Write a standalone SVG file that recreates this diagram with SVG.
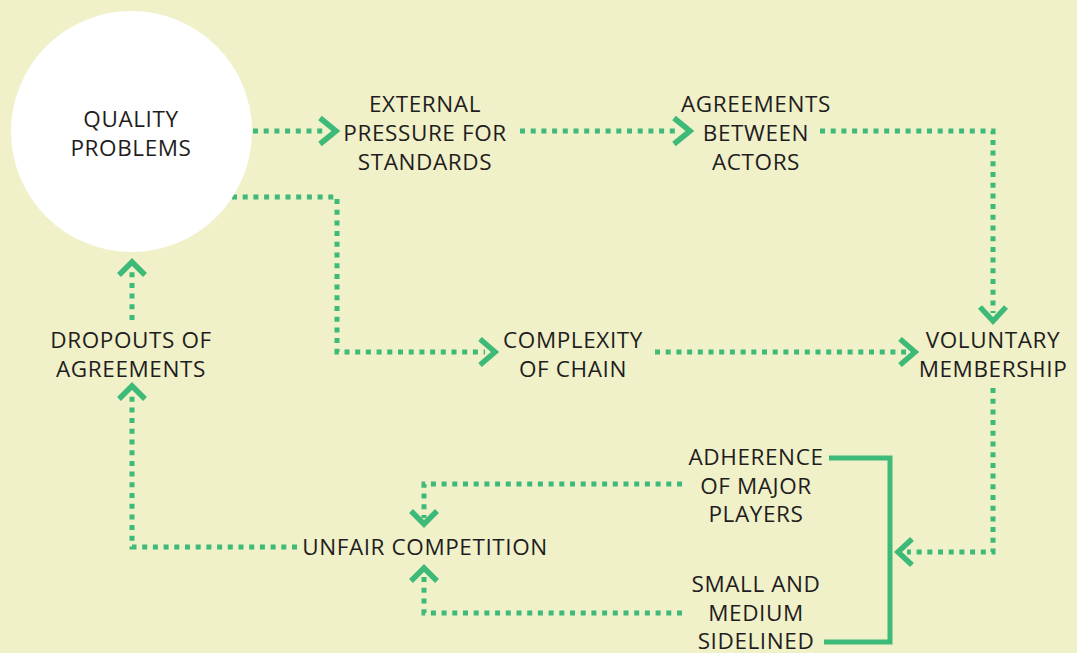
<svg xmlns="http://www.w3.org/2000/svg" width="1077" height="653" viewBox="0 0 1077 653">
<style>
.t{font-family:"Open Sans","Noto Sans","Liberation Sans",sans-serif;font-size:22.5px;fill:#1f1d1d;text-anchor:middle;letter-spacing:0.6px}
.d{fill:none;stroke:#3dba78;stroke-width:5;stroke-dasharray:5 5.7}
.a{fill:none;stroke:#3dba78;stroke-width:5.5;stroke-linecap:butt;stroke-linejoin:miter}
.s{fill:none;stroke:#3dba78;stroke-width:5;stroke-linejoin:miter}
</style>
<rect width="1077" height="653" fill="#f0f0c9"/>
<g id="connectors">
  <path class="d" d="M253 131H327"/>
  <path class="a" d="M320 118L336 131L320 144"/>
  <path class="d" d="M520 131H680"/>
  <path class="a" d="M674 118L690 131L674 144"/>
  <path class="d" d="M820 131H993V313"/>
  <path class="a" d="M980 307L993 321L1006 307"/>
  <path class="d" d="M232 197H337V352H485"/>
  <path class="a" d="M480 339L495 352L480 365"/>
  <path class="d" d="M655 352H906"/>
  <path class="a" d="M900 339L915 352L900 365"/>
  <path class="d" d="M993 388V552H907"/>
  <path class="a" d="M912 539L898 552L912 565"/>
  <path class="d" d="M682 484H424V518"/>
  <path class="a" d="M411 511L424 524L437 511"/>
  <path class="d" d="M682 613H424V575"/>
  <path class="a" d="M411 581L424 568L437 581"/>
  <path class="d" d="M297 547H132V395"/>
  <path class="a" d="M119 399L132 386L145 399"/>
  <path class="d" d="M132 320V270"/>
  <path class="a" d="M119 275L132 262L145 275"/>
  <path class="s" d="M829 458H890V642H824"/>
</g>
<g id="quality-problems">
  <circle cx="131.5" cy="131.5" r="120.5" fill="#ffffff"/>
  <text class="t" x="131" y="127">QUALITY</text>
  <text class="t" x="131" y="156">PROBLEMS</text>
</g>
<g id="external-pressure">
  <text class="t" x="425" y="112">EXTERNAL</text>
  <text class="t" x="425" y="141">PRESSURE FOR</text>
  <text class="t" x="425" y="170">STANDARDS</text>
</g>
<g id="agreements-between-actors">
  <text class="t" x="756" y="112">AGREEMENTS</text>
  <text class="t" x="756" y="141">BETWEEN</text>
  <text class="t" x="756" y="170">ACTORS</text>
</g>
<g id="complexity-of-chain">
  <text class="t" x="573" y="348">COMPLEXITY</text>
  <text class="t" x="573" y="377">OF CHAIN</text>
</g>
<g id="voluntary-membership">
  <text class="t" x="993" y="348">VOLUNTARY</text>
  <text class="t" x="993" y="377">MEMBERSHIP</text>
</g>
<g id="dropouts-of-agreements">
  <text class="t" x="131" y="348">DROPOUTS OF</text>
  <text class="t" x="131" y="377">AGREEMENTS</text>
</g>
<g id="unfair-competition">
  <text class="t" x="425" y="555">UNFAIR COMPETITION</text>
</g>
<g id="adherence-major-players">
  <text class="t" x="756" y="465">ADHERENCE</text>
  <text class="t" x="756" y="494">OF MAJOR</text>
  <text class="t" x="756" y="522">PLAYERS</text>
</g>
<g id="small-medium-sidelined">
  <text class="t" x="756" y="592">SMALL AND</text>
  <text class="t" x="756" y="621">MEDIUM</text>
  <text class="t" x="756" y="649">SIDELINED</text>
</g>
</svg>
